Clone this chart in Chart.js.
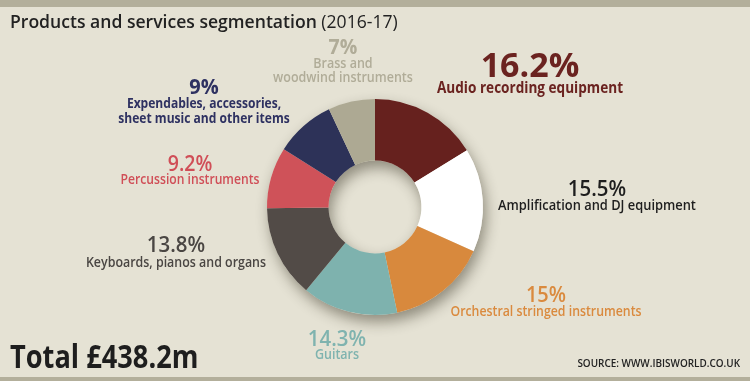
<!DOCTYPE html>
<html>
<head>
<meta charset="utf-8">
<script src="https://cdn.jsdelivr.net/npm/chart.js@4.4.1/dist/chart.umd.min.js"></script>
<style>
  html, body { margin: 0; padding: 0; background: #E5E2D4; }
  #wrap { position: relative; width: 750px; height: 381px; overflow: hidden; }
  canvas { display: block; }
</style>
</head>
<body>
<div id="wrap"><canvas id="c" width="750" height="381"></canvas></div>
<script>
// ---- data ----
const categories = [
  ['Audio recording equipment'],
  ['Amplification and DJ equipment'],
  ['Orchestral stringed instruments'],
  ['Guitars'],
  ['Keyboards, pianos and organs'],
  ['Percussion instruments'],
  ['Expendables, accessories,', 'sheet music and other items'],
  ['Brass and', 'woodwind instruments']
];
const shares = [16.2, 15.5, 15, 14.3, 13.8, 9.2, 9, 7];
const titleMain = 'Products and services segmentation';
const titleYear = '(2016-17)';
const totalText = 'Total £438.2m';
const sourceText = 'SOURCE: WWW.IBISWORLD.CO.UK';

// ---- styles ----
const sliceColors = ['#66211E', '#FFFFFF', '#D8893D', '#7EB2AE', '#524B47', '#CF5259', '#2D3258', '#ADA993'];
const textColors  = ['#6B2320', '#1E1E1E', '#DA8A3E', '#7FB3AF', '#4A4643', '#D04E57', '#2E3161', '#B0AC98'];
// label layout: center x, percent baseline/size/weight/x-scale, line baselines/size/weight/x-scale
const labelLayout = [
  { x: 530, py: 77,  ps: 34,   pw: 'bold', psx: 1.0,  ly: [93],       ls: 15.1, lw: 'bold', lsx: 0.9 },
  { x: 597, py: 196, ps: 22,   pw: '600',  psx: 0.93, ly: [210],      ls: 14.3, lw: '600',  lsx: 0.9 },
  { x: 546, py: 302, ps: 21.5, pw: '600',  psx: 0.93, ly: [316],      ls: 13.7, lw: '600',  lsx: 0.9 },
  { x: 337, py: 346, ps: 22,   pw: '600',  psx: 0.93, ly: [359],      ls: 13.9, lw: '600',  lsx: 0.9 },
  { x: 176, py: 252, ps: 22,   pw: '600',  psx: 0.93, ly: [267],      ls: 13.8, lw: '600',  lsx: 0.9 },
  { x: 190, py: 171, ps: 21,   pw: '600',  psx: 0.93, ly: [184],      ls: 13.5, lw: '600',  lsx: 0.9 },
  { x: 204, py: 94,  ps: 21.5, pw: 'bold', psx: 0.93, ly: [108, 123], ls: 13.4, lw: 'bold', lsx: 0.9 },
  { x: 343, py: 54,  ps: 21,   pw: 'bold', psx: 0.93, ly: [68, 82],   ls: 13.9, lw: '600',  lsx: 0.9 }
];
const FONT = '"Open Sans", "Noto Sans", sans-serif';

function drawText(ctx, text, x, y, align, sx) {
  ctx.save();
  ctx.translate(x, y);
  ctx.scale(sx, 1);
  ctx.textAlign = align;
  ctx.fillText(text, 0, 0);
  ctx.restore();
}

const ringShadow = {
  id: 'ringShadow',
  beforeDatasetsDraw(chart) {
    const arc = chart.getDatasetMeta(0).data[0];
    if (!arc) return;
    const { x, y, innerRadius, outerRadius } = arc.getProps(['x', 'y', 'innerRadius', 'outerRadius'], true);
    const ctx = chart.ctx;
    ctx.save();
    ctx.shadowColor = 'rgba(40,35,20,0.45)';
    ctx.shadowBlur = 14;
    ctx.shadowOffsetX = 3;
    ctx.shadowOffsetY = 7;
    ctx.fillStyle = '#E5E2D4';
    ctx.beginPath();
    ctx.arc(x, y, outerRadius, 0, Math.PI * 2);
    ctx.arc(x, y, innerRadius, 0, Math.PI * 2, true);
    ctx.closePath();
    ctx.fill();
    ctx.restore();
  }
};

const decorations = {
  id: 'decorations',
  beforeDraw(chart) {
    const ctx = chart.ctx;
    ctx.save();
    ctx.fillStyle = '#E5E2D4';
    ctx.fillRect(0, 0, chart.width, chart.height);
    ctx.fillStyle = '#B3AF9B';
    ctx.fillRect(0, 0, chart.width, 7);
    ctx.fillRect(0, chart.height - 4, chart.width, 4);
    ctx.restore();
  },
  afterDraw(chart) {
    const ctx = chart.ctx;
    ctx.save();
    ctx.textBaseline = 'alphabetic';
    // title
    ctx.fillStyle = '#222222';
    ctx.font = '600 18.5px ' + FONT;
    drawText(ctx, titleMain, 10, 28, 'left', 0.95);
    const w = ctx.measureText(titleMain + ' ').width * 0.95;
    ctx.font = '18.5px ' + FONT;
    drawText(ctx, titleYear, 10 + w, 28, 'left', 0.95);
    // total
    ctx.font = 'bold 32px ' + FONT;
    ctx.fillStyle = '#1E1E1E';
    drawText(ctx, totalText, 10, 368, 'left', 0.85);
    // source
    ctx.font = '600 10.8px ' + FONT;
    ctx.fillStyle = '#222222';
    drawText(ctx, sourceText, 740, 367, 'right', 0.92);
    // labels
    shares.forEach((v, i) => {
      const L = labelLayout[i];
      ctx.fillStyle = textColors[i];
      ctx.font = L.pw + ' ' + L.ps + 'px ' + FONT;
      drawText(ctx, v + '%', L.x, L.py, 'center', L.psx);
      ctx.font = L.lw + ' ' + L.ls + 'px ' + FONT;
      categories[i].forEach((line, j) => drawText(ctx, line, L.x, L.ly[j], 'center', L.lsx));
    });
    ctx.restore();
  }
};

new Chart(document.getElementById('c'), {
  type: 'doughnut',
  data: {
    labels: categories.map(c => c.join(' ')),
    datasets: [{
      data: shares,
      backgroundColor: sliceColors,
      borderWidth: 0,
      hoverOffset: 0
    }]
  },
  options: {
    responsive: false,
    animation: false,
    cutout: '43%',
    layout: { padding: { left: 267, right: 267, top: 99, bottom: 66 } },
    plugins: { legend: { display: false }, tooltip: { enabled: false }, title: { display: false } }
  },
  plugins: [decorations, ringShadow]
});
</script>
</body>
</html>
